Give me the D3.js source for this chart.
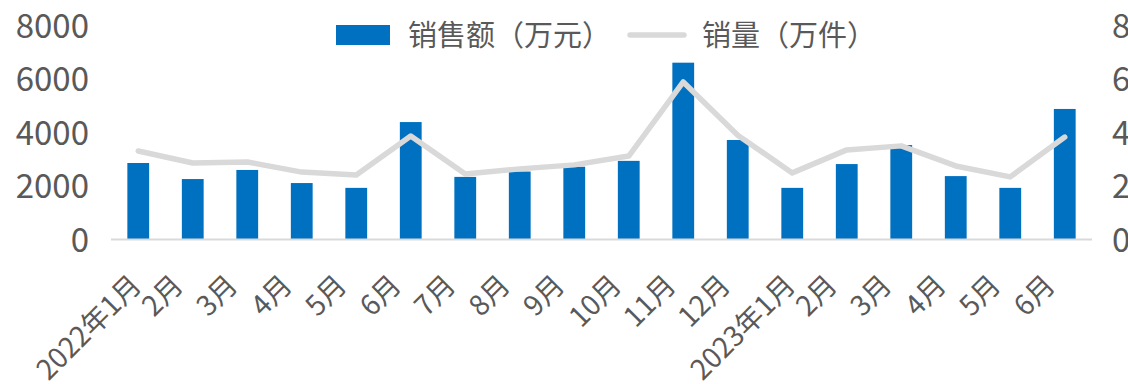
<!DOCTYPE html>
<html>
<head>
<meta charset="utf-8">
<script src="https://cdn.jsdelivr.net/npm/d3@7"></script>
<style>
  html, body { margin: 0; padding: 0; background: #fff; }
  svg { display: block; }
  text { font-family: "Noto Sans CJK SC", "Noto Sans", sans-serif; fill: #595959; }
</style>
</head>
<body>
<svg id="chart" width="1128" height="384"></svg>
<script>
// Monthly sales: amount (10k yuan, left axis) and volume (10k units, right axis)
const months = ["2022年1月","2月","3月","4月","5月","6月","7月","8月","9月","10月","11月","12月",
                "2023年1月","2月","3月","4月","5月","6月"];
const salesAmount = [2860, 2260, 2600, 2110, 1930, 4390, 2340, 2540, 2720, 2940, 6610, 3720,
                     1930, 2820, 3530, 2370, 1930, 4880];
const salesVolume = [3.31, 2.86, 2.90, 2.52, 2.41, 3.87, 2.45, 2.64, 2.79, 3.12, 5.89, 3.90,
                     2.49, 3.35, 3.50, 2.75, 2.34, 3.83];
const leftTicks = [0, 2000, 4000, 6000, 8000];
const rightTicks = [0, 2, 4, 6, 8];
const seriesNames = ["销售额（万元）", "销量（万件）"];

const svg = d3.select("#chart");
const plot = { left: 111, right: 1092, top: 25.5, bottom: 239.5 };

// month labels repeat across years, so the band scale is keyed by index
const idx = months.map((m, i) => i);
const x = d3.scaleBand().domain(idx).range([plot.left, plot.right]).paddingInner(0.6).paddingOuter(0.3);
const yL = d3.scaleLinear().domain([0, 8000]).range([plot.bottom, plot.top]);
const yR = d3.scaleLinear().domain([0, 8]).range([plot.bottom, plot.top]);

// bars
svg.append("g").selectAll("rect").data(salesAmount).join("rect")
  .attr("x", (d, i) => x(i))
  .attr("y", d => yL(d))
  .attr("width", x.bandwidth())
  .attr("height", d => yL(0) - yL(d))
  .attr("fill", "#0070C0");

// category axis line
svg.append("line")
  .attr("x1", plot.left).attr("x2", plot.right)
  .attr("y1", plot.bottom).attr("y2", plot.bottom)
  .attr("stroke", "#d9d9d9").attr("stroke-width", 2);

// volume line
const line = d3.line()
  .x((d, i) => x(i) + x.bandwidth() / 2)
  .y(d => yR(d));
svg.append("path").datum(salesVolume)
  .attr("d", line)
  .attr("fill", "none")
  .attr("stroke", "#d9d9d9")
  .attr("stroke-width", 5.5)
  .attr("stroke-linejoin", "round")
  .attr("stroke-linecap", "round");

// left axis
const axL = svg.append("g").attr("transform", `translate(${plot.left - 22},0)`)
  .call(d3.axisLeft(yL).tickValues(leftTicks).tickFormat(d3.format("d")).tickSize(0).tickPadding(0));
axL.select(".domain").remove();
axL.selectAll("text").style("font-size", "33px").attr("fill", "#595959").attr("dy", "0.35em");

// right axis
const axR = svg.append("g").attr("transform", `translate(${plot.right + 20},0)`)
  .call(d3.axisRight(yR).tickValues(rightTicks).tickFormat(d3.format("d")).tickSize(0).tickPadding(0));
axR.select(".domain").remove();
axR.selectAll("text").style("font-size", "33px").attr("fill", "#595959").attr("dy", "0.35em");

// category labels, rotated -45°; longer labels sit slightly further right
const axX = svg.append("g").attr("transform", `translate(0,${plot.bottom})`)
  .call(d3.axisBottom(x).tickFormat(i => months[i]).tickSize(0).tickPadding(0));
axX.select(".domain").remove();
axX.selectAll("text")
  .style("font-size", "28px")
  .attr("fill", "#595959")
  .attr("text-anchor", "end")
  .attr("dy", "0")
  .attr("transform", function () {
    const w = this.getComputedTextLength();
    const dx = -14 + 0.14 * w;
    return `translate(${dx},47.5) rotate(-45)`;
  });

// legend
const lg = svg.append("g");
lg.append("rect").attr("x", 336).attr("y", 25).attr("width", 54).attr("height", 20).attr("fill", "#0070C0");
lg.append("text").attr("x", 408).attr("y", 36).attr("dy", "0.36em").style("font-size", "29px").text(seriesNames[0]);
lg.append("line").attr("x1", 630).attr("x2", 684).attr("y1", 35).attr("y2", 35)
  .attr("stroke", "#d9d9d9").attr("stroke-width", 5.5).attr("stroke-linecap", "round");
lg.append("text").attr("x", 702).attr("y", 36).attr("dy", "0.36em").style("font-size", "29px").text(seriesNames[1]);
</script>
</body>
</html>
